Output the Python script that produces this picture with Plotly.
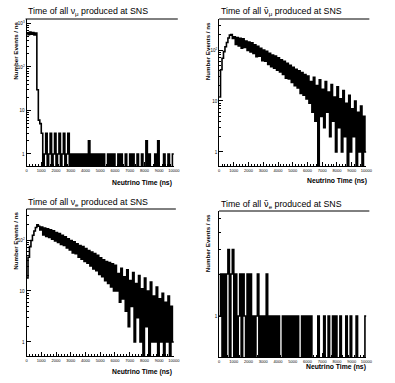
import numpy as np
import plotly.graph_objects as go

# histogram binning (ns)
bin_width = 100
t_max = 10000

# counts per bin (log panels, 0 = empty bin)
numu_counts = [610, 555, 635, 570, 620, 548, 600, 30, 6, 5,
               3, 0, 1, 3, 0, 1, 3, 0, 1, 3,
               0, 1, 3, 0, 1, 3, 0, 1, 3, 0,
               1, 0, 1, 0, 1, 0, 1, 0, 1, 0,
               1, 0, 2, 0, 1, 0, 1, 0, 1, 0,
               1, 0, 1, 0, 0, 1, 0, 1, 0, 1,
               0, 0, 1, 0, 1, 0, 0, 1, 0, 0,
               1, 0, 1, 0, 0, 1, 0, 0, 1, 0,
               0, 2, 0, 1, 0, 0, 0, 1, 0, 2,
               0, 0, 0, 1, 0, 0, 1, 0, 0, 1]

numubar_counts = [12, 41, 69, 93, 116, 140, 172, 196, 200, 168,
                  182, 128, 176, 120, 170, 108, 165, 112, 150, 98,
                  144, 92, 138, 86, 126, 74, 118, 76, 108, 62,
                  100, 60, 94, 52, 86, 47, 80, 44, 76, 40,
                  70, 37, 64, 33, 60, 28, 55, 27, 50, 23,
                  46, 20, 42, 18, 39, 14, 36, 13, 33, 11,
                  31, 9, 24, 6, 29, 4, 20, 0, 26, 5,
                  17, 3, 24, 6, 15, 2, 21, 4, 12, 1,
                  19, 3, 11, 1, 16, 2, 9, 0, 13, 1,
                  7, 2, 10, 0, 6, 1, 8, 0, 5, 1]

nue_counts = [18, 46, 74, 98, 124, 150, 176, 198, 186, 158,
              180, 125, 172, 118, 166, 112, 158, 104, 152, 96,
              140, 90, 134, 82, 124, 78, 116, 70, 106, 64,
              98, 56, 92, 54, 84, 46, 78, 42, 74, 38,
              68, 35, 62, 31, 58, 27, 54, 25, 50, 21,
              45, 19, 41, 16, 38, 14, 36, 12, 34, 10,
              32, 10, 22, 6, 28, 7, 19, 4, 26, 2,
              16, 5, 23, 1, 14, 3, 20, 1, 11, 0,
              18, 2, 10, 0, 15, 1, 8, 1, 12, 0,
              7, 1, 9, 0, 6, 1, 8, 0, 5, 1]

nuebar_counts = [1, 2, 0, 2, 0, 2, 3, 0, 2, 3,
                 0, 2, 0, 1, 2, 0, 2, 1, 0, 2,
                 0, 2, 0, 1, 0, 1, 2, 0, 1, 0,
                 1, 0, 2, 0, 1, 0, 1, 0, 1, 0,
                 1, 0, 0, 1, 0, 1, 0, 1, 0, 1,
                 0, 1, 0, 1, 0, 0, 1, 0, 1, 0,
                 1, 0, 1, 0, 0, 0, 0, 1, 0, 0,
                 0, 1, 0, 0, 1, 0, 0, 1, 0, 1,
                 0, 0, 1, 0, 0, 0, 1, 0, 0, 1,
                 0, 0, 0, 1, 0, 0, 0, 0, 0, 1]

NUBAR = "<span style='font-family:DejaVu Sans'>\u03bd\u0304</span>"
titles = ["Time of all \u03bd<sub>\u03bc</sub> produced at SNS",
          "Time of all " + NUBAR + "<sub>\u03bc</sub> produced at SNS",
          "Time of all \u03bd<sub>e</sub> produced at SNS",
          "Time of all " + NUBAR + "<sub>e</sub> produced at SNS"]
x_label = "Neutrino Time (ns)"
y_label = "Number Events / ns"
x_ticks = list(range(0, t_max + 1, 1000))

W, H = 395, 383
FONT = "Liberation Sans, Arial, sans-serif"

# panel geometry in pixels: (left, right, top, bottom), log y range
panels = [
    dict(data=numu_counts, box=(26, 176, 19, 166), yr=(-0.276, 3.103),
         yt=[1, 10, 100, 1000], ytt=["1", "10", "10<sup>2</sup>", "10<sup>3</sup>"],
         line=(25, 180, 19), ylab=(14, 20), xlab=(176, 183), tit=(25, 19.5)),
    dict(data=numubar_counts, box=(222, 372, 19, 166), yr=(-0.275, 2.608),
         yt=[1, 10, 100], ytt=["1", "10", "10<sup>2</sup>"],
         line=(222, 375, 19), ylab=(210, 20), xlab=(375, 181), tit=(222, 19.5)),
    dict(data=nue_counts, box=(26, 176, 209, 356), yr=(-0.275, 2.608),
         yt=[1, 10, 100], ytt=["1", "10", "10<sup>2</sup>"],
         line=(26, 178, 209), ylab=(14, 210), xlab=(176, 372), tit=(25, 209.5)),
    dict(data=nuebar_counts, box=(222, 372, 211, 357), yr=(-0.294, 0.753),
         yt=[1], ytt=["1"],
         line=(222, 375, 211), ylab=(210, 212), xlab=(374, 367), tit=(222, 211.5)),
]

edges = np.arange(0, t_max + bin_width, bin_width)
minor_log = [m * 10 ** d for d in range(0, 4) for m in range(2, 10)]

fig = go.Figure()
annotations = []
shapes = []

for i, p in enumerate(panels, start=1):
    xa = "x" if i == 1 else f"x{i}"
    ya = "y" if i == 1 else f"y{i}"
    counts = np.array(p["data"], dtype=float)
    yplot = np.where(counts > 0, counts, 0.1)
    yplot = np.append(yplot, yplot[-1])
    fig.add_trace(go.Scatter(x=edges, y=yplot, mode="lines", line_shape="hv",
                             line=dict(color="black", width=1.6),
                             xaxis=xa, yaxis=ya, showlegend=False, hoverinfo="skip"))

    l, r, t, b = p["box"]
    xkey = "xaxis" if i == 1 else f"xaxis{i}"
    ykey = "yaxis" if i == 1 else f"yaxis{i}"
    fig.layout[xkey] = dict(
        domain=[l / W, r / W], range=[0, t_max], anchor=ya,
        showgrid=False, zeroline=False, showline=True, linecolor="black", linewidth=1,
        ticks="inside", ticklen=4, tickcolor="black", tickwidth=1,
        tickmode="array", tickvals=x_ticks, ticktext=[str(v) for v in x_ticks],
        tickfont=dict(family=FONT, size=4, color="black"),
        minor=dict(ticks="inside", ticklen=2, dtick=200, tickcolor="black", showgrid=False))
    fig.layout[ykey] = dict(
        domain=[1 - b / H, 1 - t / H], type="log", range=list(p["yr"]), anchor=xa,
        showgrid=False, zeroline=False, showline=True, linecolor="black", linewidth=1,
        ticks="inside", ticklen=4, tickcolor="black", tickwidth=1,
        tickmode="array", tickvals=p["yt"], ticktext=p["ytt"],
        tickfont=dict(family=FONT, size=4.5, color="black"),
        minor=dict(ticks="inside", ticklen=2, tickmode="array", tickvals=minor_log,
                   tickcolor="black", showgrid=False))

    lx0, lx1, ly = p["line"]
    shapes.append(dict(type="line", xref="paper", yref="paper",
                       x0=lx0 / W, x1=lx1 / W, y0=1 - ly / H, y1=1 - ly / H,
                       line=dict(color="black", width=1)))

    tx, ty = p["tit"]
    annotations.append(dict(text=titles[i - 1], xref="paper", yref="paper",
                            x=tx / W, y=1 - ty / H, xanchor="left", yanchor="bottom",
                            showarrow=False, font=dict(family=FONT, size=8.8, color="black")))
    yx, yy = p["ylab"]
    annotations.append(dict(text="<b>" + y_label + "</b>", xref="paper", yref="paper",
                            x=yx / W, y=1 - yy / H, xanchor="center", yanchor="top",
                            textangle=-90, showarrow=False,
                            font=dict(family=FONT, size=6.2, color="black")))
    xx, xy = p["xlab"]
    annotations.append(dict(text="<b>" + x_label + "</b>", xref="paper", yref="paper",
                            x=xx / W, y=1 - xy / H, xanchor="right", yanchor="middle",
                            showarrow=False, font=dict(family=FONT, size=6.8, color="black")))

fig.update_layout(width=W, height=H, margin=dict(l=0, r=0, t=0, b=0),
                  paper_bgcolor="white", plot_bgcolor="white",
                  annotations=annotations, shapes=shapes)

# page body has a default margin; drop it so the figure sits at the window corner
fig.write_html("out.html", config={"displayModeBar": False},
               post_script="document.body.style.margin='0';")
